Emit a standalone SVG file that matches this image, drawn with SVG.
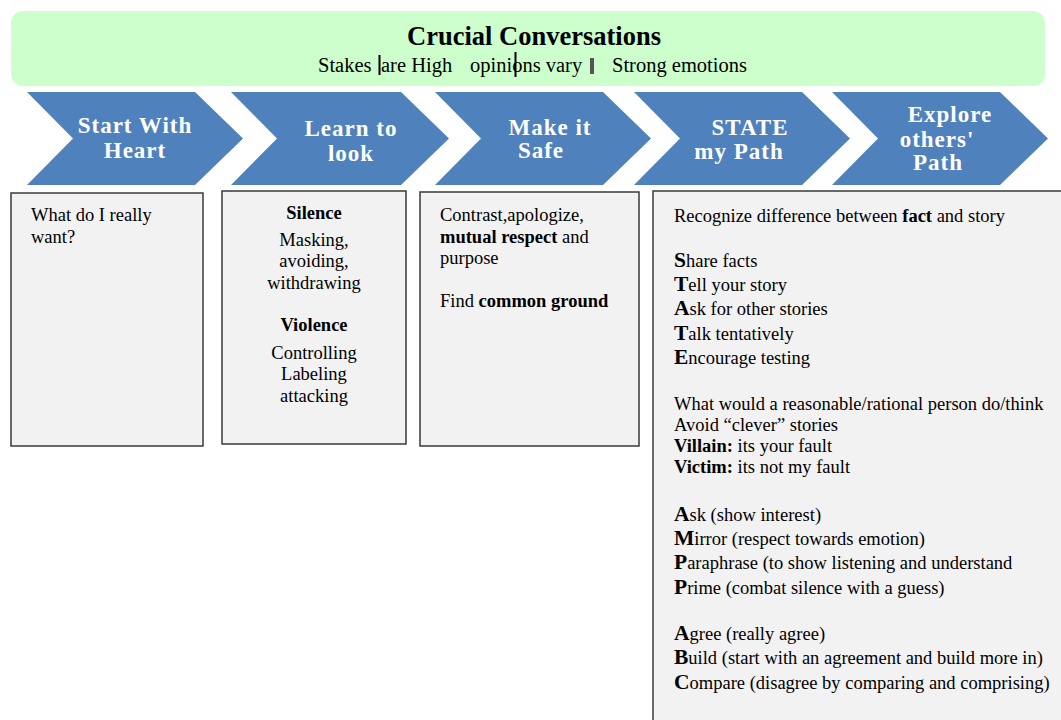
<svg xmlns="http://www.w3.org/2000/svg" width="1061" height="720" viewBox="0 0 1061 720">
<style>
.serif{font-family:"Liberation Serif","Times New Roman",serif;fill:#000}
.chev{fill:#4f81bd}
.ct{font-family:"Liberation Serif","Times New Roman",serif;font-weight:bold;font-size:23px;letter-spacing:1px;fill:#fff;text-anchor:middle}
.box{fill:#f2f2f2;stroke:#3a3a3a;stroke-width:1.5}
.t{font-family:"Liberation Serif","Times New Roman",serif;font-size:18.5px;fill:#000}
.b{font-weight:bold}
.big{font-weight:bold;font-size:21.5px}
.mid{text-anchor:middle}
.sub{font-size:20.5px}
</style>
<rect width="1061" height="720" fill="#fff"/>
<g id="header">
<rect x="11" y="11" width="1034" height="75" rx="12" fill="#ccffcc"/>
<text class="serif" x="534" y="45" font-size="26.5" font-weight="bold" text-anchor="middle">Crucial Conversations</text>
<text class="serif sub" x="318" y="72">Stakes</text>
<text class="serif sub" x="381" y="72">are High</text>
<text class="serif sub" x="470" y="72">opinions vary</text>
<text class="serif sub" x="612" y="72">Strong emotions</text>
<rect x="378.5" y="55" width="2" height="20" fill="#000"/>
<rect x="514.5" y="52" width="2" height="25" fill="#000"/>
<rect x="590" y="58" width="4" height="16" fill="#555"/>
</g>
<g id="step1">
<polygon class="chev" points="27,92 195,92 243,138.5 195,185 27,185 73,138.5"/>
<text class="ct" x="135" y="133">Start With</text>
<text class="ct" x="135" y="158">Heart</text>
</g>
<g id="step2">
<polygon class="chev" points="231,92 401,92 449,138.5 401,185 231,185 277,138.5"/>
<text class="ct" x="351" y="136">Learn to</text>
<text class="ct" x="351" y="161">look</text>
</g>
<g id="step3">
<polygon class="chev" points="435,92 603,92 651,138.5 603,185 435,185 481,138.5"/>
<text class="ct" x="550" y="135">Make it</text>
<text class="ct" x="541" y="158">Safe</text>
</g>
<g id="step4">
<polygon class="chev" points="634,92 802,92 850,138.5 802,185 634,185 680,138.5"/>
<text class="ct" x="750" y="135">STATE</text>
<text class="ct" x="739" y="159">my Path</text>
</g>
<g id="step5">
<polygon class="chev" points="832,92 1000,92 1048,138.5 1000,185 832,185 878,138.5"/>
<text class="ct" x="950" y="122">Explore</text>
<text class="ct" x="937" y="147">others'</text>
<text class="ct" x="938" y="170">Path</text>
</g>
<g id="connectors"></g>
<g id="box1">
<rect class="box" x="11" y="193" width="192" height="253"/>
<text class="t" x="31" y="221">What do I really</text>
<text class="t" x="31" y="243">want?</text>
</g>
<g id="box2">
<rect class="box" x="222" y="191" width="184" height="253"/>
<text class="t mid b" x="314" y="219">Silence</text>
<text class="t mid" x="314" y="246">Masking,</text>
<text class="t mid" x="314" y="267">avoiding,</text>
<text class="t mid" x="314" y="289">withdrawing</text>
<text class="t mid b" x="314" y="331">Violence</text>
<text class="t mid" x="314" y="359">Controlling</text>
<text class="t mid" x="314" y="380">Labeling</text>
<text class="t mid" x="314" y="402">attacking</text>
</g>
<g id="box3">
<rect class="box" x="420" y="192" width="219" height="254"/>
<text class="t" x="440" y="221">Contrast,apologize,</text>
<text class="t" x="440" y="243"><tspan class="b">mutual respect</tspan> and</text>
<text class="t" x="440" y="264">purpose</text>
<text class="t" x="440" y="307">Find <tspan class="b">common ground</tspan></text>
</g>
<g id="box4">
<rect class="box" x="653" y="191" width="420" height="540"/>
<text class="t" x="674" y="222">Recognize difference between <tspan class="b">fact</tspan> and story</text>
<text class="t" x="674" y="267"><tspan class="big">S</tspan>hare facts</text>
<text class="t" x="674" y="291"><tspan class="big">T</tspan>ell your story</text>
<text class="t" x="674" y="315"><tspan class="big">A</tspan>sk for other stories</text>
<text class="t" x="674" y="340"><tspan class="big">T</tspan>alk tentatively</text>
<text class="t" x="674" y="364"><tspan class="big">E</tspan>ncourage testing</text>
<text class="t" x="674" y="410">What would a reasonable/rational person do/think</text>
<text class="t" x="674" y="431">Avoid “clever” stories</text>
<text class="t" x="674" y="452"><tspan class="b">Villain:</tspan> its your fault</text>
<text class="t" x="674" y="473"><tspan class="b">Victim:</tspan> its not my fault</text>
<text class="t" x="674" y="521"><tspan class="big">A</tspan>sk (show interest)</text>
<text class="t" x="674" y="545"><tspan class="big">M</tspan>irror (respect towards emotion)</text>
<text class="t" x="674" y="569"><tspan class="big">P</tspan>araphrase (to show listening and understand</text>
<text class="t" x="674" y="594"><tspan class="big">P</tspan>rime (combat silence with a guess)</text>
<text class="t" x="674" y="640"><tspan class="big">A</tspan>gree (really agree)</text>
<text class="t" x="674" y="664"><tspan class="big">B</tspan>uild (start with an agreement and build more in)</text>
<text class="t" x="674" y="689"><tspan class="big">C</tspan>ompare (disagree by comparing and comprising)</text>
</g>
</svg>
